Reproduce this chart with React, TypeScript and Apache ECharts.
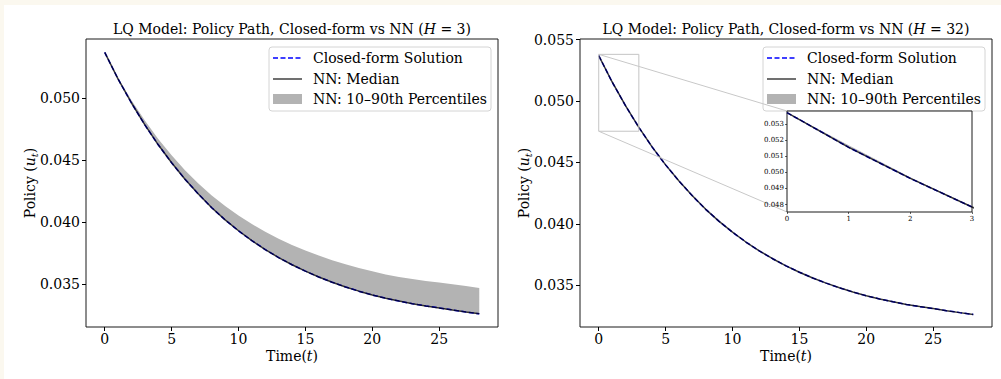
import React, { useEffect, useRef } from "react";
import * as echarts from "echarts";

const times = [0, 1, 2, 3, 4, 5, 6, 7, 8, 9, 10, 11, 12, 13, 14, 15, 16, 17, 18, 19, 20, 21, 22, 23, 24, 25, 26, 27, 28];

const closedForm = [0.0537, 0.05155, 0.04962, 0.04785, 0.04625, 0.0448, 0.04348, 0.04228, 0.04118, 0.0402, 0.03932, 0.03852, 0.0378, 0.03716, 0.03658, 0.03606, 0.03559, 0.03517, 0.03479, 0.03445, 0.03414, 0.03388, 0.03365, 0.03344, 0.03326, 0.0331, 0.03293, 0.03277, 0.03262];

const medianH3 = [0.0537, 0.05155, 0.04962, 0.04785, 0.04625, 0.0448, 0.04348, 0.04228, 0.04118, 0.0402, 0.03932, 0.03852, 0.0378, 0.03716, 0.03658, 0.03606, 0.03559, 0.03517, 0.03479, 0.03445, 0.03414, 0.03388, 0.03365, 0.03344, 0.03326, 0.0331, 0.03293, 0.03277, 0.03262];
const lowH3 = [0.05368, 0.05153, 0.0496, 0.04783, 0.04623, 0.04478, 0.04346, 0.04226, 0.04116, 0.04018, 0.0393, 0.0385, 0.03778, 0.03714, 0.03656, 0.03604, 0.03557, 0.03515, 0.03477, 0.03443, 0.03412, 0.03386, 0.03363, 0.03342, 0.03324, 0.03308, 0.03291, 0.03275, 0.0326];
const highH3 = [0.0537, 0.05165, 0.04985, 0.0482, 0.04672, 0.0454, 0.0442, 0.04313, 0.04217, 0.04131, 0.04055, 0.03986, 0.03924, 0.03868, 0.03818, 0.03773, 0.03732, 0.03695, 0.03662, 0.03632, 0.03605, 0.0358, 0.0356, 0.03542, 0.03527, 0.03514, 0.035, 0.03486, 0.0347];

const medianH32 = [0.0537, 0.05155, 0.04962, 0.04785, 0.04625, 0.0448, 0.04348, 0.04228, 0.04118, 0.0402, 0.03932, 0.03852, 0.0378, 0.03716, 0.03658, 0.03606, 0.03559, 0.03517, 0.03479, 0.03445, 0.03414, 0.03388, 0.03365, 0.03344, 0.03326, 0.0331, 0.03293, 0.03277, 0.03262];
const lowH32 = [0.05368, 0.05153, 0.0496, 0.04783, 0.04623, 0.04478, 0.04346, 0.04226, 0.04116, 0.04018, 0.0393, 0.0385, 0.03778, 0.03714, 0.03656, 0.03604, 0.03557, 0.03515, 0.03477, 0.03443, 0.03412, 0.03386, 0.03363, 0.03342, 0.03324, 0.03308, 0.03291, 0.03275, 0.0326];
const highH32 = [0.0537, 0.05168, 0.0497, 0.04788, 0.04627, 0.04482, 0.0435, 0.0423, 0.0412, 0.04022, 0.03934, 0.03854, 0.03782, 0.03718, 0.0366, 0.03608, 0.03561, 0.03519, 0.03481, 0.03447, 0.03416, 0.0339, 0.03367, 0.03346, 0.03328, 0.03312, 0.03295, 0.03279, 0.03264];

const xTicks = [0, 5, 10, 15, 20, 25];
const yTicksLeft = [0.035, 0.04, 0.045, 0.05];
const yTicksRight = [0.035, 0.04, 0.045, 0.05, 0.055];
const insetXTicks = [0, 1, 2, 3];
const insetYTicks = [0.048, 0.049, 0.05, 0.051, 0.052, 0.053];

const xMin = -1.4;
const xMax = 29.4;
const yMinLeft = 0.03156;
const yMaxLeft = 0.05478;
const yMinRight = 0.0316;
const yMaxRight = 0.05505;
const insetXMin = 0;
const insetXMax = 3;
const insetYMin = 0.04754;
const insetYMax = 0.0538;

const legendNames = ["Closed-form Solution", "NN: Median", "NN: 10–90th Percentiles"];
const titles = ["3", "32"];

const FONT = "'DejaVu Serif', serif";
const BAND = "#b3b3b3";
const MEDIAN = "rgba(0,0,0,0.75)";
const BLUE = "#0000ff";

function pairs(vals: number[]) {
  return times.map((t, i) => [t, vals[i]]);
}

function seriesFor(idx: number, med: number[], lo: number[], hi: number[], zOff: number) {
  return [
    {
      type: "custom",
      name: legendNames[2],
      xAxisIndex: idx,
      yAxisIndex: idx,
      data: times.map((t, i) => [t, lo[i], hi[i]]),
      encode: { x: 0, y: [1, 2] },
      silent: true,
      clip: true,
      z: 1 + zOff,
      renderItem: (params: any, api: any) => {
        if (params.dataIndex !== 0) return null;
        const pts: number[][] = [];
        for (let i = 0; i < times.length; i++) pts.push(api.coord([times[i], hi[i]]));
        for (let i = times.length - 1; i >= 0; i--) pts.push(api.coord([times[i], lo[i]]));
        const cs = params.coordSys;
        return {
          type: "polygon",
          shape: { points: pts },
          style: { fill: BAND, stroke: "none" },
          clipPath: { type: "rect", shape: { x: cs.x, y: cs.y, width: cs.width, height: cs.height } },
        };
      },
    },
    {
      type: "line",
      name: legendNames[0],
      xAxisIndex: idx,
      yAxisIndex: idx,
      data: pairs(closedForm),
      symbol: "none",
      silent: true,
      itemStyle: { color: BLUE },
      lineStyle: { color: BLUE, width: 1.5, type: [5, 2.5] },
      z: 2 + zOff,
    },
    {
      type: "line",
      name: legendNames[1],
      xAxisIndex: idx,
      yAxisIndex: idx,
      data: pairs(med),
      symbol: "none",
      silent: true,
      itemStyle: { color: MEDIAN },
      lineStyle: { color: MEDIAN, width: 1.5 },
      z: 3 + zOff,
    },
  ];
}

function xAxisCfg(grid: number, min: number, max: number, ticks: number[], small: boolean) {
  return {
    type: "value",
    gridIndex: grid,
    position: "bottom",
    min,
    max,
    axisLine: { show: false, onZero: false },
    splitLine: { show: false },
    axisTick: { show: true, customValues: ticks, length: small ? 2 : 4, inside: false, lineStyle: { color: "#000", width: small ? 0.6 : 1 } },
    axisLabel: {
      show: true,
      customValues: ticks,
      color: "#000",
      fontFamily: FONT,
      fontSize: small ? 7 : 14,
      margin: small ? 3 : 5,
      formatter: (v: number) => String(Math.round(v)),
    },
  };
}
function yAxisCfg(grid: number, min: number, max: number, ticks: number[], small: boolean) {
  return {
    type: "value",
    gridIndex: grid,
    position: "left",
    min,
    max,
    axisLine: { show: false, onZero: false },
    splitLine: { show: false },
    axisTick: { show: true, customValues: ticks, length: small ? 2 : 4, inside: false, lineStyle: { color: "#000", width: small ? 0.6 : 1 } },
    axisLabel: {
      show: true,
      customValues: ticks,
      color: "#000",
      fontFamily: FONT,
      fontSize: small ? 7 : 14,
      margin: small ? 3 : 6,
      formatter: (v: number) => v.toFixed(3),
    },
  };
}

export default function App() {
  const ref = useRef<HTMLDivElement>(null);
  useEffect(() => {
    if (!ref.current) return;
    const chart = echarts.init(ref.current, undefined, { renderer: "svg" });
    const gridBase = { show: true, borderColor: "#1a1a1a", borderWidth: 1, backgroundColor: "#fff", containLabel: false };
    chart.setOption({
      animation: false,
      backgroundColor: "#fff",
      grid: [
        { ...gridBase, left: 86, top: 39, width: 412, height: 288 },
        { ...gridBase, left: 580, top: 39, width: 412, height: 288 },
        { ...gridBase, left: 787, top: 111, width: 185, height: 101, z: 5 },
      ],
      xAxis: [
        xAxisCfg(0, xMin, xMax, xTicks, false),
        xAxisCfg(1, xMin, xMax, xTicks, false),
        { ...xAxisCfg(2, insetXMin, insetXMax, insetXTicks, true), z: 5 },
      ],
      yAxis: [
        yAxisCfg(0, yMinLeft, yMaxLeft, yTicksLeft, false),
        yAxisCfg(1, yMinRight, yMaxRight, yTicksRight, false),
        { ...yAxisCfg(2, insetYMin, insetYMax, insetYTicks, true), z: 5 },
      ],
      series: [
        ...seriesFor(0, medianH3, lowH3, highH3, 0),
        ...seriesFor(1, medianH32, lowH32, highH32, 0),
        ...seriesFor(2, medianH32, lowH32, highH32, 5),
      ],
    });

    const r1 = chart.convertToPixel({ gridIndex: 1 }, [insetXMin, insetYMax]) as number[];
    const r2 = chart.convertToPixel({ gridIndex: 1 }, [insetXMax, insetYMin]) as number[];
    const q1 = chart.convertToPixel({ gridIndex: 2 }, [insetXMin, insetYMax]) as number[];
    const q2 = chart.convertToPixel({ gridIndex: 2 }, [insetXMin, insetYMin]) as number[];

    const titleRich = {
      n: { fontFamily: FONT, fontSize: 14, fill: "#000" },
      i: { fontFamily: FONT, fontSize: 14, fontStyle: "italic", fill: "#000" },
    };
    const labelRich = {
      n: { fontFamily: FONT, fontSize: 14, fill: "#000", lineHeight: 18 },
      i: { fontFamily: FONT, fontSize: 14, fontStyle: "italic", fill: "#000", lineHeight: 18 },
      s: { fontFamily: FONT, fontSize: 10, fontStyle: "italic", fill: "#000", verticalAlign: "bottom", lineHeight: 10 },
    };
    const centers = [292, 786];
    const legendLefts = [269, 763];
    const graphics: any[] = [
      { type: "rect", id: "creamTop", shape: { x: 0, y: 0, width: 1001, height: 5 }, style: { fill: "#fbf8ef" }, z: 100, silent: true },
      { type: "rect", id: "creamLeft", shape: { x: 0, y: 0, width: 4, height: 379 }, style: { fill: "#fbf8ef" }, z: 100, silent: true },
      {
        type: "rect",
        id: "zoomRect",
        shape: { x: r1[0], y: r1[1], width: r2[0] - r1[0], height: r2[1] - r1[1] },
        style: { fill: "none", stroke: "#c4c4c4", lineWidth: 1 },
        z: 4,
        silent: true,
      },
      { type: "line", id: "conn1", shape: { x1: r1[0], y1: r1[1], x2: q1[0], y2: q1[1] }, style: { stroke: "#c8c8c8", lineWidth: 1 }, z: 4, silent: true },
      { type: "line", id: "conn2", shape: { x1: r1[0], y1: r2[1], x2: q2[0], y2: q2[1] }, style: { stroke: "#c8c8c8", lineWidth: 1 }, z: 4, silent: true },
    ];
    titles.forEach((h, k) => {
      graphics.push({
        type: "text",
        id: "title" + k,
        x: centers[k],
        y: 29,
        style: {
          text: "{n|LQ Model: Policy Path, Closed-form vs NN (}{i|H}{n| = " + h + ")}",
          rich: titleRich,
          align: "center",
          verticalAlign: "middle",
        },
        z: 20,
      });
      graphics.push({
        type: "text",
        id: "xlabel" + k,
        x: centers[k],
        y: 356,
        style: { text: "{n|Time(}{i|t}{n|)}", rich: labelRich, align: "center", verticalAlign: "middle" },
        z: 20,
      });
      graphics.push({
        type: "text",
        id: "ylabel" + k,
        x: 30 + k * 494,
        y: 183,
        rotation: Math.PI / 2,
        style: { text: "{n|Policy (}{i|u}{s|t}{n|)}", rich: labelRich, align: "center", verticalAlign: "middle" },
        z: 20,
      });
      const L = legendLefts[k];
      const children: any[] = [
        {
          type: "rect",
          shape: { x: 0, y: 0, width: 222, height: 64, r: 3 },
          style: { fill: "rgba(255,255,255,0.85)", stroke: "#d4d4d4", lineWidth: 1 },
        },
        {
          type: "line",
          shape: { x1: 4, y1: 11, x2: 33, y2: 11 },
          style: { stroke: BLUE, lineWidth: 1.5, lineDash: [5, 2.5] },
        },
        {
          type: "line",
          shape: { x1: 4, y1: 32, x2: 33, y2: 32 },
          style: { stroke: MEDIAN, lineWidth: 1.5 },
        },
        {
          type: "rect",
          shape: { x: 4, y: 47, width: 29, height: 10 },
          style: { fill: BAND },
        },
      ];
      const rowsY = [11, 32, 52];
      legendNames.forEach((nm, j) => {
        children.push({
          type: "text",
          x: 44,
          y: rowsY[j],
          style: { text: nm, fontFamily: FONT, fontSize: 14, fill: "#000", align: "left", verticalAlign: "middle" },
        });
      });
      graphics.push({
        type: "group",
        id: "legend" + k,
        x: L,
        y: 47,
        z: 30,
        silent: true,
        children,
      });
    });
    chart.setOption({ graphic: { elements: graphics } });

    return () => chart.dispose();
  }, []);
  return (
    <div style={{ position: "fixed", left: 0, top: 0, width: 1001, height: 379, background: "#fff" }}>
      <div ref={ref} style={{ width: 1001, height: 379 }} />
    </div>
  );
}
